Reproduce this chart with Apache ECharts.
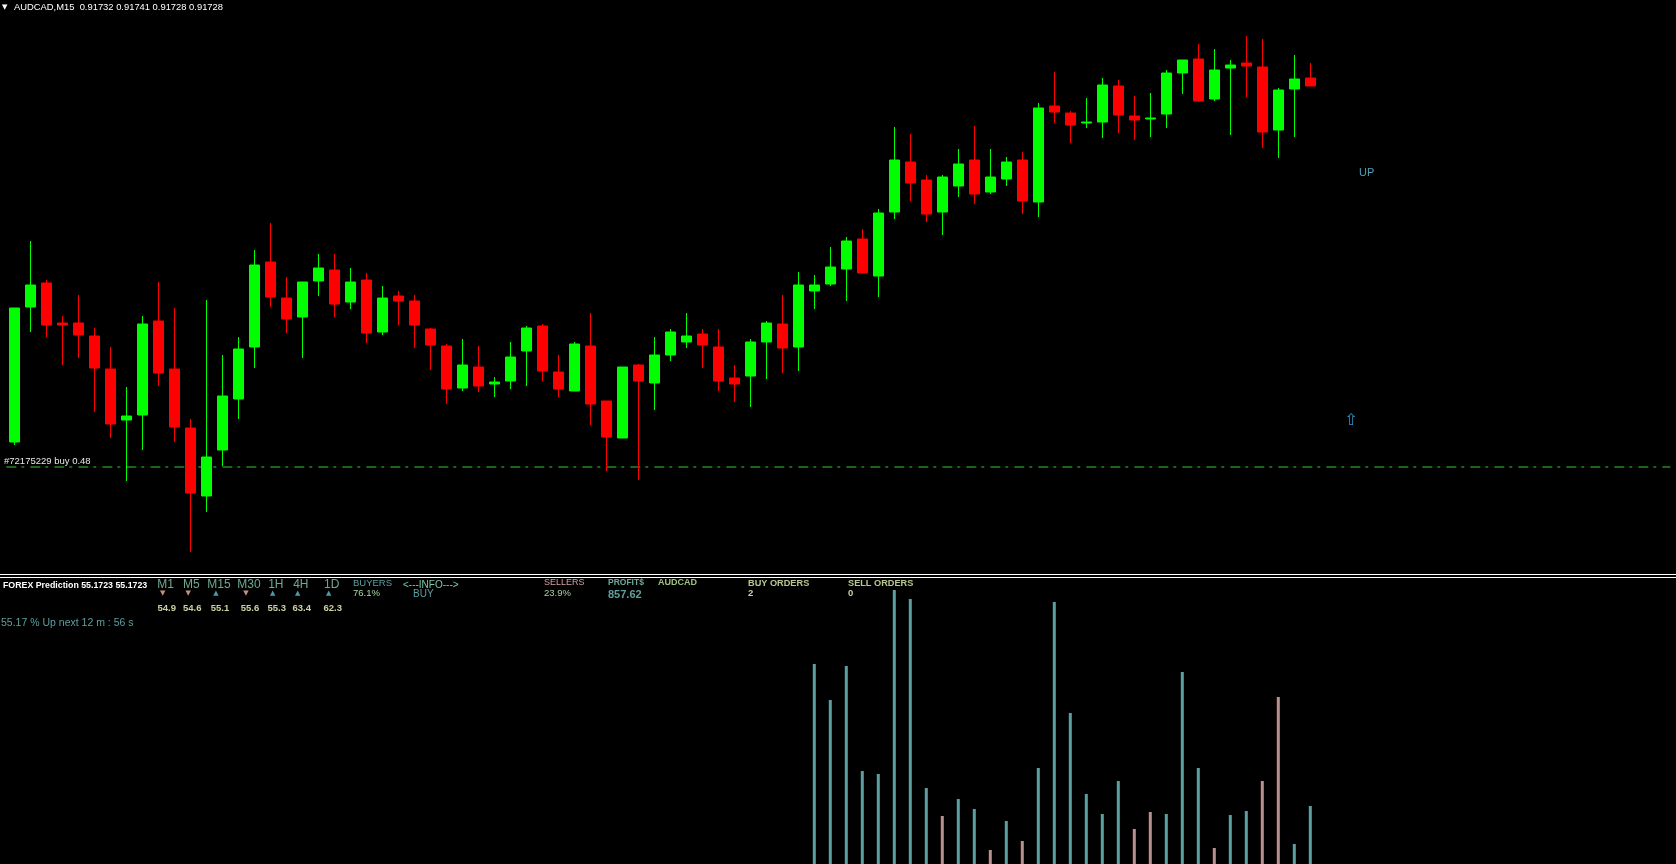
<!DOCTYPE html>
<html>
<head>
<meta charset="utf-8">
<style>
html,body{margin:0;padding:0;background:#000;}
#chart{width:1676px;height:864px;}
</style>
<script src="https://cdn.jsdelivr.net/npm/echarts@6/dist/echarts.min.js"></script>
</head>
<body>
<div id="chart"></div>
<script>
// ---------- DATA ----------
const symbolTitle = 'AUDCAD,M15  0.91732 0.91741 0.91728 0.91728';
const slotCount = 104; // bar slots visible across the window (82 filled)
const opens = [0.91550,0.916175,0.916295,0.916095,0.916095,0.91603,0.915865,0.91561,0.915635,0.916105,0.915865,0.91557,0.91523,0.91546,0.915715,0.915975,0.91640,0.91622,0.916125,0.916305,0.91636,0.91620,0.91631,0.91605,0.91623,0.916205,0.916065,0.91598,0.91577,0.915875,0.91579,0.915805,0.915955,0.91608,0.91585,0.915755,0.91598,0.915705,0.91552,0.915885,0.915795,0.915935,0.91600,0.91604,0.915975,0.91582,0.91583,0.91600,0.91609,0.915975,0.916255,0.91629,0.916365,0.916515,0.91633,0.91665,0.91690,0.91681,0.91665,0.91678,0.91691,0.91675,0.916815,0.91691,0.91670,0.91718,0.917145,0.917095,0.91710,0.91728,0.91713,0.917115,0.91714,0.917345,0.917415,0.917215,0.91737,0.917395,0.917375,0.91706,0.917265,0.91732];
const closes = [0.91617,0.916285,0.916085,0.916085,0.916035,0.91587,0.91559,0.91563,0.91609,0.915845,0.915575,0.915245,0.915425,0.91573,0.915965,0.916385,0.916225,0.916115,0.91630,0.91637,0.91619,0.91630,0.916045,0.91622,0.916205,0.916085,0.915985,0.915765,0.915885,0.91578,0.91580,0.915925,0.91607,0.915855,0.915765,0.91599,0.91569,0.915525,0.915875,0.915805,0.915935,0.91605,0.91603,0.915985,0.915805,0.91579,0.91600,0.916095,0.91597,0.916285,0.916285,0.916375,0.916505,0.916345,0.916645,0.91691,0.916795,0.91664,0.916825,0.91689,0.91674,0.916825,0.91690,0.916705,0.91717,0.91715,0.917085,0.91710,0.917285,0.917135,0.91711,0.91712,0.917345,0.91741,0.917205,0.91736,0.917385,0.91738,0.91705,0.91726,0.917315,0.91728];
const lows = [0.915485,0.91605,0.916025,0.915885,0.91592,0.91565,0.91552,0.915305,0.91546,0.91578,0.91550,0.91495,0.91515,0.91538,0.915615,0.91587,0.916175,0.916045,0.91592,0.91623,0.916125,0.916165,0.915995,0.916035,0.916085,0.91597,0.91586,0.91569,0.915755,0.91575,0.915725,0.915765,0.91578,0.915805,0.915725,0.915755,0.915585,0.915355,0.91552,0.91531,0.91566,0.915905,0.91597,0.91587,0.915755,0.91570,0.915675,0.915815,0.915845,0.915855,0.916165,0.91628,0.916205,0.916345,0.916225,0.916615,0.916705,0.91660,0.916535,0.916725,0.91669,0.91674,0.91678,0.91664,0.916625,0.917095,0.916995,0.91707,0.91702,0.917045,0.91701,0.917025,0.91707,0.91724,0.91720,0.917205,0.917035,0.917225,0.91697,0.91692,0.917025,0.91728];
const highs = [0.91617,0.916505,0.91631,0.91613,0.916235,0.91607,0.915975,0.915775,0.91613,0.91630,0.91617,0.915615,0.91621,0.915935,0.916025,0.91646,0.916595,0.916325,0.91630,0.91644,0.91644,0.91637,0.916345,0.91628,0.916255,0.916235,0.91607,0.91599,0.916015,0.91598,0.915825,0.91600,0.91608,0.91609,0.915935,0.91600,0.916145,0.915705,0.915875,0.91589,0.916025,0.916065,0.916145,0.916065,0.916065,0.915885,0.916015,0.916105,0.916235,0.91635,0.916335,0.916475,0.916525,0.916565,0.916665,0.917075,0.91704,0.916835,0.916835,0.916965,0.91708,0.916965,0.916925,0.91695,0.917195,0.91735,0.917155,0.91722,0.91732,0.91731,0.91723,0.917245,0.91736,0.91741,0.91749,0.917465,0.91741,0.91753,0.917515,0.91727,0.917435,0.917395];
const orderPrice = 0.915375;
const orderLabel = '#72175229 buy 0.48';
// prediction histogram, one bar per candle from candle index 50 to 81
const histStart = 50;
const buyPower  = [200,164,198,93,90,274,265,76,null,65,55,null,43,null,96,262,151,70,50,83,null,null,50,192,96,null,49,53,null,null,20,58];
const sellPower = [null,null,null,null,null,null,null,null,48,null,null,14,null,23,null,null,null,null,null,null,35,52,null,null,null,16,null,null,83,167,null,null];
// dashboard texts
const tfLabels = ['M1','M5','M15','M30','1H','4H','1D'];
const tfValues = ['54.9','54.6','55.1','55.6','55.3','63.4','62.3'];
const tfDir    = ['down','down','up','down','up','up','up'];
const indicatorTitle = 'FOREX Prediction 55.1723 55.1723';
const buyersPct = '76.1%';
const sellersPct = '23.9%';
const profit = '857.62';
const pairName = 'AUDCAD';
const buyOrders = '2';
const sellOrders = '0';
const signalText = 'BUY';
const predictionLine = '55.17 % Up next 12 m : 56 s';
const trendText = 'UP';

// ---------- BUILD ----------
const categories = [];
for (let i = 0; i < slotCount; i++) categories.push(String(i));
const ohlc = opens.map((o, i) => [o, closes[i], lows[i], highs[i]]);
const pad = new Array(histStart).fill(null);
const buySeries = pad.concat(buyPower);
const sellSeries = pad.concat(sellPower);
const orderLine = categories.map(() => orderPrice);

const F = '"Liberation Sans", Arial, sans-serif';
const chart = echarts.init(document.getElementById('chart'), null, {renderer: 'canvas'});

function txt(x, y, text, color, font, align) {
  return {type: 'text', x: x, y: y, silent: true,
    style: {text: text, fill: color, font: font, align: align || 'left', verticalAlign: 'middle'}};
}
const graphics = [
  txt(2, 7, '▼', '#FFFFFF', '7px "DejaVu Sans", sans-serif'),
  txt(14, 7, symbolTitle, '#FFFFFF', '9.4px ' + F),
  txt(1359, 173, trendText, '#4F9FB8', '11px ' + F),
  txt(1351, 421, '⇧', '#3A93C8', '16px "DejaVu Sans", sans-serif', 'center'),
  txt(4, 461, orderLabel, '#E8E8E8', '9.5px ' + F),
  {type: 'line', silent: true, shape: {x1: 0, y1: 574.5, x2: 1676, y2: 574.5}, style: {stroke: '#FFFFFF', lineWidth: 1}},
  {type: 'line', silent: true, shape: {x1: 0, y1: 577.5, x2: 1676, y2: 577.5}, style: {stroke: '#FFFFFF', lineWidth: 1}},
  txt(3, 586, indicatorTitle, '#FFFFFF', 'bold 8.8px ' + F),
  txt(353, 583, 'BUYERS', '#5FA0A0', '9.5px ' + F),
  txt(353, 593, buyersPct, '#A8D8A8', '9.5px ' + F),
  txt(403, 585, '<---INFO--->', '#80C8A8', '10px ' + F),
  txt(413, 594.5, signalText, '#5F9EA0', '10px ' + F),
  txt(544, 583, 'SELLERS', '#D8A0A0', '9px ' + F),
  txt(544, 593, sellersPct, '#A8D0A0', '9.5px ' + F),
  txt(608, 583, 'PROFIT$', '#6FA898', 'bold 8.5px ' + F),
  txt(608, 594.5, profit, '#5F9EA0', 'bold 11px ' + F),
  txt(658, 583, pairName, '#A0C080', 'bold 9px ' + F),
  txt(748, 583, 'BUY ORDERS', '#B8C890', 'bold 9.2px ' + F),
  txt(748, 593, buyOrders, '#D0D0A0', 'bold 9.5px ' + F),
  txt(848, 583, 'SELL ORDERS', '#B8C890', 'bold 9.2px ' + F),
  txt(848, 593, sellOrders, '#D0D0A0', 'bold 9.5px ' + F),
  txt(1, 623, predictionLine, '#5F9EA0', '10.5px ' + F)
];
const tfCenters = [165.7, 191.3, 219, 249, 275.8, 300.8, 331.7];
tfLabels.forEach((lab, i) => {
  const cx = tfCenters[i];
  graphics.push(txt(cx, 585, lab, '#6FA890', '12px ' + F, 'center'));
  const up = tfDir[i] === 'up';
  graphics.push(txt(cx - 3, 593.5, up ? '▲' : '▼', up ? '#4F9AA8' : '#C8907A', '7px "DejaVu Sans", sans-serif', 'center'));
  graphics.push(txt(cx + 1, 608, tfValues[i], '#C8D4A0', 'bold 9.5px ' + F, 'center'));
});

const hiddenAxis = {show: false, axisLine: {show: false}, axisTick: {show: false}, axisLabel: {show: false}, splitLine: {show: false}};

chart.setOption({
  backgroundColor: '#000000',
  animation: false,
  grid: [
    {left: 6.3, width: 1664, top: 20, height: 552},
    {left: 6.3, width: 1664, top: 584, height: 280}
  ],
  xAxis: [
    Object.assign({type: 'category', data: categories, gridIndex: 0, boundaryGap: true}, hiddenAxis),
    Object.assign({type: 'category', data: categories, gridIndex: 1, boundaryGap: true}, hiddenAxis),
    Object.assign({type: 'category', data: categories, gridIndex: 0, boundaryGap: false}, hiddenAxis)
  ],
  yAxis: [
    Object.assign({type: 'value', gridIndex: 0, min: 0.91485, max: 0.91761, scale: true}, hiddenAxis),
    Object.assign({type: 'value', gridIndex: 1, min: 0, max: 280}, hiddenAxis)
  ],
  series: [
    {
      type: 'line', xAxisIndex: 2, yAxisIndex: 0, data: orderLine, symbol: 'none', silent: true,
      lineStyle: {color: '#32CD32', width: 1, type: [10, 5, 3, 6]}, z: 1
    },
    {
      type: 'candlestick', xAxisIndex: 0, yAxisIndex: 0, data: ohlc, barWidth: 11, z: 2,
      itemStyle: {color: '#00FF00', color0: '#FF0000', borderColor: '#00FF00', borderColor0: '#FF0000', borderWidth: 1}
    },
    {
      type: 'bar', xAxisIndex: 1, yAxisIndex: 1, data: buySeries, barWidth: 3, barGap: '-100%',
      itemStyle: {color: '#5F9EA0'}
    },
    {
      type: 'bar', xAxisIndex: 1, yAxisIndex: 1, data: sellSeries, barWidth: 3, barGap: '-100%',
      itemStyle: {color: '#BC8F8F'}
    }
  ],
  graphic: graphics
});
</script>
</body>
</html>
